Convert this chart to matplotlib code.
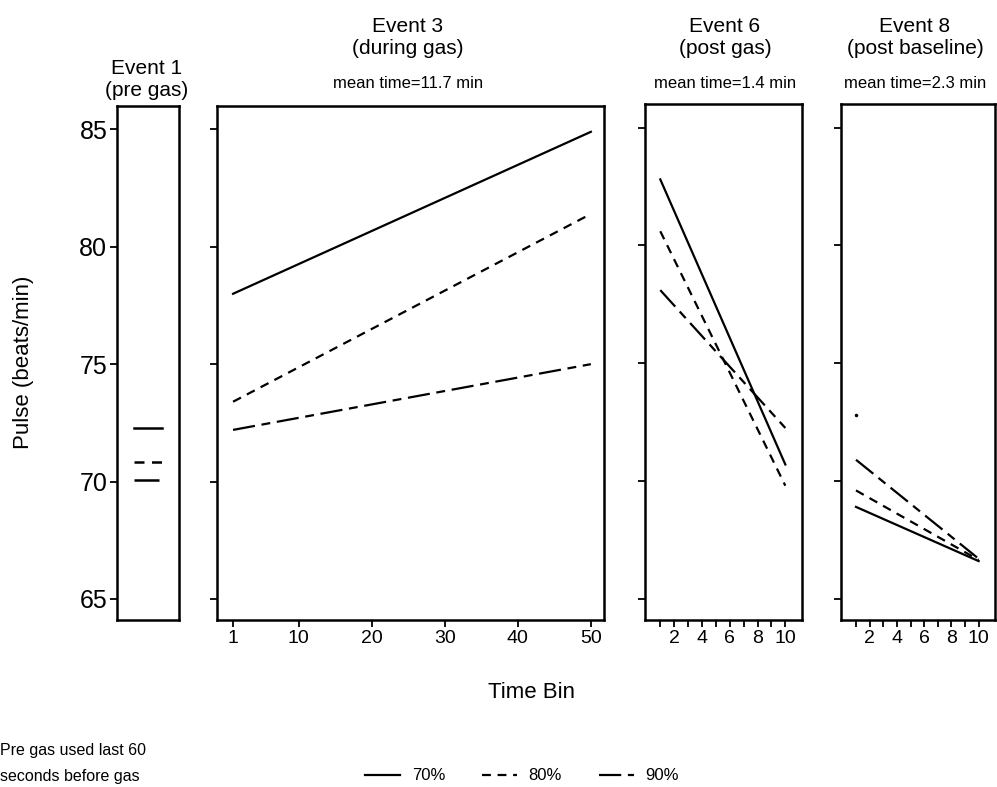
import numpy as np
import matplotlib.pyplot as plt

plt.rcParams['font.family'] = ['Liberation Sans', 'DejaVu Sans']

# 数据
series_names = ['70%', '80%', '90%']
pre_x = [0, 1]
pre_vals = [72.3, 70.85, 70.05]

ev3_x = [1, 50]
ev3_vals = [[78.0, 84.9], [73.4, 81.4], [72.2, 75.0]]

ev6_x = [1, 10]
ev6_vals = [[82.8, 70.7], [80.6, 69.8], [78.1, 72.25]]

ev8_x = [1, 10]
ev8_vals = [[68.9, 66.6], [69.6, 66.65], [70.9, 66.7]]
ev8_extra = (1, 72.8)

styles = [dict(ls='-'), dict(ls=(0, (4, 3))), dict(ls=(0, (10, 3, 4, 3)))]

fig = plt.figure(figsize=(9.97, 7.87), dpi=100)
W, H = 997, 787


def px_axes(l, t, r, b):
    return fig.add_axes([l / W, 1 - b / H, (r - l) / W, (b - t) / H])


ax1 = px_axes(117, 106, 179, 620)
ax2 = px_axes(217, 106, 604, 620)
ax3 = px_axes(645, 104, 802, 620)
ax4 = px_axes(841, 104, 995, 620)

for ax in (ax1, ax2, ax3, ax4):
    ax.set_ylim(64.1, 86.0)
    ax.set_yticks([65, 70, 75, 80, 85])
    for s in ax.spines.values():
        s.set_linewidth(1.8)
    ax.tick_params(direction='out', length=5, width=1.3, pad=2)
    ax.tick_params(axis='y', labelsize=18)
    if ax is not ax1:
        ax.set_yticklabels([])

# Event 1
for v, st in zip(pre_vals, styles):
    ax1.plot(pre_x, [v, v], color='black', lw=1.8, **st)
ax1.set_xlim(-0.6, 1.6)
ax1.set_xticks([])

# Event 3
for vals, st in zip(ev3_vals, styles):
    ax2.plot(ev3_x, vals, color='black', lw=1.6, **st)
ax2.set_xlim(-1.2, 51.8)
ax2.set_xticks([1, 10, 20, 30, 40, 50])
ax2.tick_params(axis='x', labelsize=14)

# Event 6
for vals, st in zip(ev6_vals, styles):
    ax3.plot(ev6_x, vals, color='black', lw=1.6, **st)

# Event 8
for vals, st in zip(ev8_vals, styles):
    ax4.plot(ev8_x, vals, color='black', lw=1.6, **st)
ax4.plot([ev8_extra[0]], [ev8_extra[1]], 'k.', ms=3)

for ax in (ax3, ax4):
    ax.set_xlim(-0.1, 11.2)
    ax.set_xticks(range(1, 11))
    ax.set_xticklabels(['' if i % 2 else str(i) for i in range(1, 11)])
    ax.tick_params(axis='x', labelsize=14)

# 标题
fig.text(147 / W, 1 - 68 / H, 'Event 1', ha='center', va='center', fontsize=15)
fig.text(147 / W, 1 - 90 / H, '(pre gas)', ha='center', va='center', fontsize=15)
titles = [(408, 'Event 3', '(during gas)', 'mean time=11.7 min'),
          (725, 'Event 6', '(post gas)', 'mean time=1.4 min'),
          (915, 'Event 8', '(post baseline)', 'mean time=2.3 min')]
for x, t1, t2, t3 in titles:
    fig.text(x / W, 1 - 26 / H, t1, ha='center', va='center', fontsize=15)
    fig.text(x / W, 1 - 48 / H, t2, ha='center', va='center', fontsize=15)
    fig.text(x / W, 1 - 84 / H, t3, ha='center', va='center', fontsize=12)

fig.text(24 / W, 1 - 362 / H, 'Pulse (beats/min)', rotation=90,
         ha='center', va='center', fontsize=16)
fig.text(532 / W, 1 - 693 / H, 'Time Bin', ha='center', va='center', fontsize=16)

# 图例
fig.text(0, 1 - 750 / H, 'Pre gas used last 60', ha='left', va='center', fontsize=11.5)
fig.text(0, 1 - 777 / H, 'seconds before gas', ha='left', va='center', fontsize=11.5)
handles = [plt.Line2D([], [], color='black', lw=1.6, **st) for st in styles]
fig.legend(handles, series_names, loc='center', bbox_to_anchor=(522 / W, 1 - 776 / H),
           ncol=3, frameon=False, fontsize=12, handlelength=2.1, handletextpad=0.7,
           columnspacing=2.2)

fig.savefig('out.png', dpi=100)
